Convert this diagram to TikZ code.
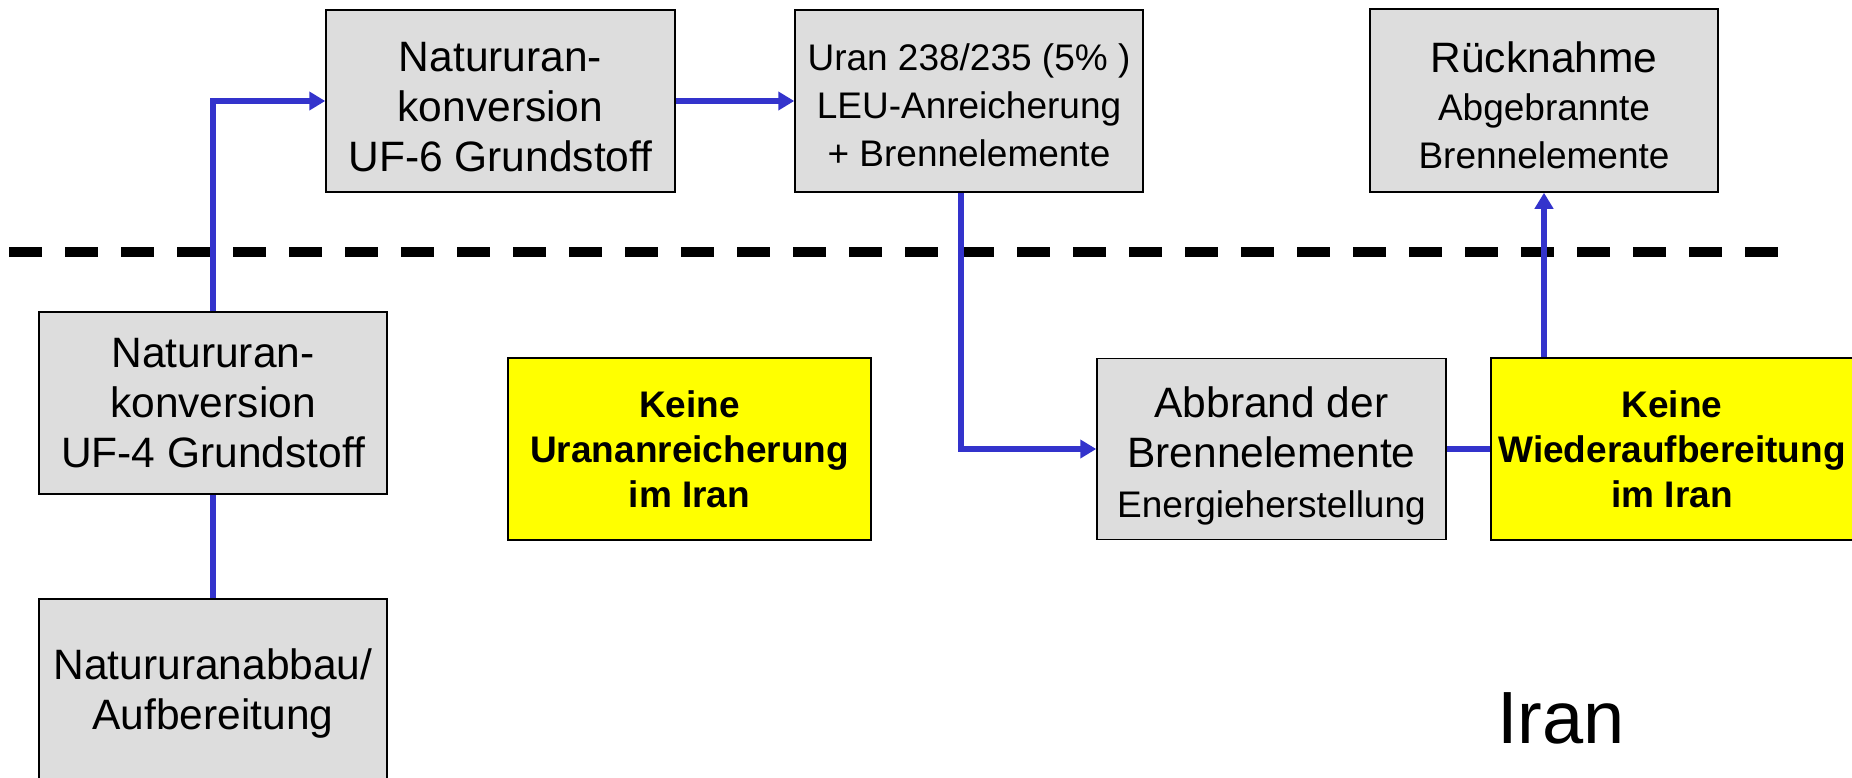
\documentclass[tikz,border=0pt]{standalone}
\usepackage{fontspec}
\setmainfont{Liberation Sans}
\usetikzlibrary{arrows.meta}
\definecolor{boxgray}{HTML}{DDDDDD}
\definecolor{flowblue}{RGB}{51,51,204}
\definecolor{keinyellow}{HTML}{FFFF00}
\newcommand\topgap[1]{\rule{0pt}{#1}}
\tikzset{
  box/.style={draw=black, line width=1.5pt, fill=boxgray, inner sep=0pt, align=center,
    font=\fontsize{42.5}{50}\selectfont},
  smallbox/.style={box, font=\fontsize{37}{48}\selectfont},
  ybox/.style={box, fill=keinyellow, font=\bfseries\fontsize{37}{45}\selectfont},
  flow/.style={draw=flowblue, line width=6pt},
  arr/.style={flow, -{Triangle[length=16pt,width=18pt]}},
  sep/.style={draw=black, line width=10pt, dash pattern=on 32.5pt off 23.5pt},
  big/.style={font=\fontsize{74}{80}\selectfont, inner sep=0pt},
}
\begin{document}
\begin{tikzpicture}[x=1pt,y=-1pt]
\useasboundingbox (0,0) rectangle (1852,777);
\clip (0,0) rectangle (1852,777);
\fill[white] (0,0) rectangle (1852,777);

% separator
\draw[sep] (9,252) -- (1778,252);

% boxes
\node[box, minimum width=349pt, minimum height=182pt] (uf6) at (500.5,101)
  {\topgap{40.5pt}Natururan-\\konversion\\UF-6 Grundstoff};
\node[smallbox, minimum width=348pt, minimum height=182pt] (uran) at (969,101)
  {\topgap{35.5pt}Uran 238/235 (5\% )\\LEU-Anreicherung\\+ Brennelemente};
\node[smallbox, minimum width=348pt, minimum height=183pt] (rueck) at (1544,100.5)
  {\fontsize{42.5}{47}\selectfont\topgap{40.5pt}Rücknahme\\\fontsize{37}{47}\selectfont Abgebrannte\\Brennelemente};
\node[box, minimum width=348pt, minimum height=182pt] (uf4) at (213,403)
  {Natururan-\\konversion\\UF-4 Grundstoff};
\node[box, minimum width=348pt, minimum height=189pt] (abbau) at (213,693.5)
  {\fontsize{42.5}{53}\selectfont Natururanabbau/\\Aufbereitung};
\node[ybox, minimum width=363pt, minimum height=182pt] (urananr) at (689.5,449)
  {Keine\\Urananreicherung\\im Iran};
\node[box, minimum width=349pt, minimum height=181pt] (abbrand) at (1271.5,449)
  {\topgap{44pt}Abbrand der\\Brennelemente\\\fontsize{37}{48}\selectfont Energieherstellung};
\node[ybox, minimum width=362pt, minimum height=182pt] (wieder) at (1672,449)
  {Keine\\Wiederaufbereitung\\im Iran};
\node[big, anchor=base] (iran) at (1561,743) {Iran};

% connectors
\draw[arr] (uf4.north) |- (uf6.west);
\draw[arr] (uf6.east) -- (uran.west);
\draw[arr] ([xshift=-8pt]uran.south) |- (abbrand.west);
\draw[flow] (abbrand.east) -- (wieder.west);
\draw[arr] (wieder.north -| rueck.south) -- (rueck.south);
\draw[flow] (uf4.south) -- (abbau.north);
\end{tikzpicture}
\end{document}
